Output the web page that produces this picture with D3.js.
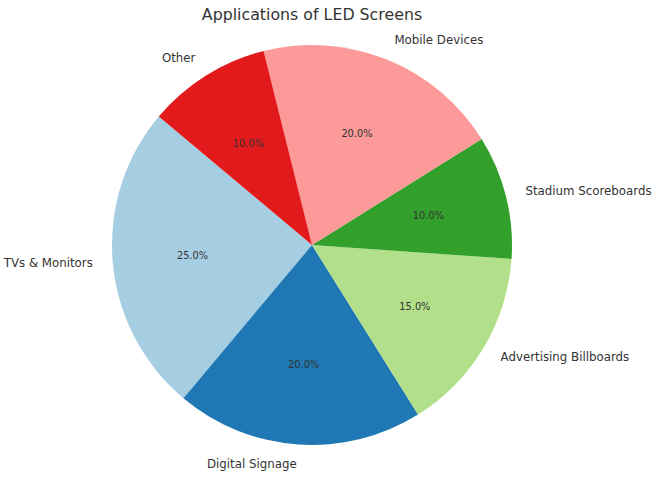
<!DOCTYPE html>
<html><head><meta charset="utf-8">
<script src="https://cdn.jsdelivr.net/npm/d3@7"></script>
<style>body{margin:0;background:#fff;}svg{display:block;font-family:"DejaVu Sans",sans-serif;}</style>
</head><body>
<script>
const categories = ["TVs & Monitors","Digital Signage","Advertising Billboards","Stadium Scoreboards","Mobile Devices","Other"];
const values = [25,20,15,10,20,10];
const colors = ["#a6cee3","#1f78b4","#b2df8a","#33a02c","#fb9a99","#e31a1c"];
const title = "Applications of LED Screens";

const W=656,H=478,cx=312,cy=245,R=200,startDeg=140;
const svg=d3.select("body").append("svg").attr("width",W).attr("height",H);
svg.append("text").attr("x",312).attr("y",20).attr("text-anchor","middle")
  .attr("font-size","15.8px").attr("fill","#333").text(title);

const total=d3.sum(values);
const toD3 = deg => (90-deg)*Math.PI/180;
let acc=startDeg;
const slices=values.map((v,i)=>{const a0=acc, a1=acc+360*v/total; acc=a1; return {i,v,a0,a1};});
const arc=d3.arc().innerRadius(0).outerRadius(R);
const g=svg.append("g").attr("transform",`translate(${cx},${cy})`);
g.selectAll("path").data(slices).enter().append("path")
  .attr("d",d=>arc({startAngle:toD3(d.a1),endAngle:toD3(d.a0)}))
  .attr("fill",d=>colors[d.i]);
slices.forEach(d=>{
  const mid=(d.a0+d.a1)/2*Math.PI/180;
  const lx=1.1*R*Math.cos(mid), ly=-1.1*R*Math.sin(mid);
  g.append("text").attr("x",lx).attr("y",ly).attr("dy","0.27em")
    .attr("text-anchor",lx>0?"start":"end").attr("font-size","11.8px").attr("fill","#333")
    .text(categories[d.i]);
  const px=0.6*R*Math.cos(mid), py=-0.6*R*Math.sin(mid);
  g.append("text").attr("x",px).attr("y",py).attr("dy","0.35em")
    .attr("text-anchor","middle").attr("font-size","9.8px").attr("fill","#333")
    .text(d3.format(".1f")(d.v/total*100)+"%");
});
</script>
</body></html>
